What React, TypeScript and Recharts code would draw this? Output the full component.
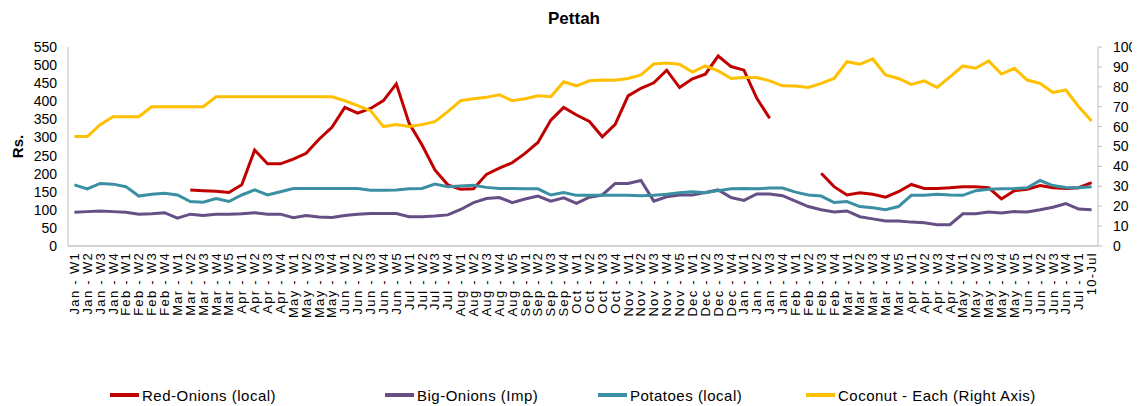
import React from "react";
import { LineChart, Line, XAxis, YAxis, Legend } from "recharts";

const categories: string[] = [
  "Jan - W1", "Jan - W2", "Jan - W3", "Jan - W4",
  "Feb - W1", "Feb - W2", "Feb - W3", "Feb - W4",
  "Mar - W1", "Mar - W2", "Mar - W3", "Mar - W4", "Mar - W5",
  "Apr - W1", "Apr - W2", "Apr - W3", "Apr - W4",
  "May - W1", "May - W2", "May - W3", "May - W4",
  "Jun - W1", "Jun - W2", "Jun - W3", "Jun - W4", "Jun - W5",
  "Jul - W1", "Jul - W2", "Jul - W3", "Jul - W4",
  "Aug - W1", "Aug - W2", "Aug - W3", "Aug - W4", "Aug - W5",
  "Sep - W1", "Sep - W2", "Sep - W3", "Sep - W4",
  "Oct - W1", "Oct - W2", "Oct - W3", "Oct - W4",
  "Nov - W1", "Nov - W2", "Nov - W3", "Nov - W4", "Nov - W5",
  "Dec - W1", "Dec - W2", "Dec - W3", "Dec - W4",
  "Jan - W1", "Jan - W2", "Jan - W3", "Jan - W4",
  "Feb - W1", "Feb - W2", "Feb - W3", "Feb - W4",
  "Mar - W1", "Mar - W2", "Mar - W3", "Mar - W4", "Mar - W5",
  "Apr - W1", "Apr - W2", "Apr - W3", "Apr - W4",
  "May - W1", "May - W2", "May - W3", "May - W4", "May - W5",
  "Jun - W1", "Jun - W2", "Jun - W3", "Jun - W4",
  "Jul - W1", "10-Jul",
];

const redOnions: (number | null)[] = [
  null, null, null, null, null, null, null, null, null,
  155, 153, 151, 148, 169, 265, 227, 227, 240, 256, 295,
  328, 383, 367, 380, 402, 448, 339, 279, 210, 169,
  157, 158, 198, 215, 230, 256, 286, 348, 383, 362,
  344, 302, 336, 415, 436, 451, 486, 438, 462, 475,
  525, 496, 486, 408, 353, null, null, null, 201, 164,
  141, 147, 143, 135, 150, 170, 159, 159, 161, 164,
  164, 161, 130, 153, 157, 167, 161, 159, 161, 175,
];

const bigOnions: number[] = [
  93, 95, 97, 95, 93, 88, 89, 92, 77, 88,
  84, 88, 88, 89, 92, 88, 88, 78, 84, 80,
  79, 84, 88, 90, 90, 90, 81, 81, 83, 86,
  101, 120, 131, 134, 120, 130, 138, 124, 133, 118,
  135, 141, 173, 173, 181, 124, 136, 141, 141, 148,
  155, 134, 126, 144, 144, 139, 124, 109, 100, 94,
  97, 81, 75, 69, 69, 66, 64, 59, 59, 89,
  89, 94, 91, 95, 94, 100, 107, 117, 102, 100,
];

const potatoes: number[] = [
  169, 158, 173, 171, 164, 138, 143, 146, 141, 123,
  121, 131, 123, 141, 155, 141, 150, 159, 159, 159,
  159, 159, 159, 154, 154, 155, 158, 159, 171, 164,
  166, 168, 162, 159, 159, 158, 158, 141, 148, 140,
  140, 140, 140, 140, 139, 140, 143, 147, 150, 147,
  153, 158, 159, 158, 160, 160, 149, 141, 138, 120,
  123, 109, 106, 100, 109, 140, 140, 143, 141, 140,
  153, 157, 158, 159, 161, 181, 167, 162, 161, 164,
];

const coconut: number[] = [
  55, 55, 61, 65, 65, 65, 70, 70, 70, 70,
  70, 75, 75, 75, 75, 75, 75, 75, 75, 75,
  75, 73, 70.5, 68, 60, 61, 60, 61, 62.5, 67.5,
  73, 74, 74.7, 76, 73, 74, 75.5, 75, 82.5, 80.5,
  83, 83.4, 83.3, 84.2, 86, 91.5, 92, 91.3, 87.4, 90.5,
  88, 84.2, 84.7, 84.7, 83, 80.5, 80.4, 79.7, 81.7, 84.2,
  92.6, 91.3, 94, 86, 84.2, 81.2, 83, 79.7, 85, 90.5,
  89.3, 93, 86.4, 89.3, 83.4, 81.7, 77.2, 78.4, 70, 62.8,
];

const leftTicks: number[] = [0, 50, 100, 150, 200, 250, 300, 350, 400, 450, 500, 550];
const rightTicks: number[] = [0, 10, 20, 30, 40, 50, 60, 70, 80, 90, 100];

const seriesNames = {
  red: "Red-Onions (local)",
  big: "Big-Onions (Imp)",
  potato: "Potatoes (local)",
  coconut: "Coconut - Each (Right Axis)",
};

const COLORS = {
  red: "#c00000",
  big: "#654f84",
  potato: "#3a8fa3",
  coconut: "#ffc000",
};

const chartData = categories.map((name, i) => ({
  name,
  red: redOnions[i],
  big: bigOnions[i],
  potato: potatoes[i],
  coconut: coconut[i],
}));

const FONT = "'Liberation Sans', Arial, sans-serif";

const XTick = (props: any) => {
  const { x, y, payload } = props;
  return (
    <text
      x={x}
      y={y}
      transform={`rotate(-90, ${x}, ${y})`}
      textAnchor="end"
      dy="0.35em"
      fontSize={13}
      letterSpacing={1.3}
      fontFamily={FONT}
      fill="#000"
    >
      {payload.value}
    </text>
  );
};

const legendOrder: { key: keyof typeof seriesNames; left: number }[] = [
  { key: "red", left: 102 },
  { key: "big", left: 377 },
  { key: "potato", left: 590 },
  { key: "coconut", left: 798 },
];

const renderLegend = () => (
  <div style={{ position: "relative", height: 22, width: "100%", fontFamily: FONT }}>
    {legendOrder.map((it) => (
      <div
        key={it.key}
        style={{
          position: "absolute",
          left: it.left,
          top: 0,
          height: 22,
          display: "flex",
          alignItems: "center",
          whiteSpace: "nowrap",
        }}
      >
        <span
          style={{
            display: "inline-block",
            width: 29,
            height: 4,
            background: COLORS[it.key],
            marginRight: 3,
          }}
        />
        <span style={{ fontSize: 15, letterSpacing: 0.5, color: "#000" }}>{seriesNames[it.key]}</span>
      </div>
    ))}
  </div>
);

export default function App() {
  return (
    <div style={{ position: "relative", width: 1132, height: 398 }}>
      <div
        style={{
          position: "absolute",
          top: 1,
          left: 0,
          width: 1132,
          textAlign: "center",
          fontFamily: FONT,
          fontWeight: "bold",
          fontSize: 17,
          lineHeight: "20px",
          color: "#000",
        }}
      >
        Pettah
      </div>
      <LineChart
        width={1132}
        height={398}
        data={chartData}
        margin={{ top: 39, right: 0, bottom: 0, left: 0 }}
      >
        <XAxis
          dataKey="name"
          interval={0}
          tick={<XTick />}
          tickLine={false}
          tickSize={0}
          tickMargin={6}
          height={138}
          padding={{ left: 6.4, right: 6.4 }}
          axisLine={{ stroke: "#a6a6a6" }}
        />
        <YAxis
          yAxisId="left"
          domain={[0, 550]}
          ticks={leftTicks}
          interval={0}
          width={60}
          tickLine={false}
          tickSize={6}
          tickMargin={5}
          axisLine={{ stroke: "#bfbfbf" }}
          tick={{ fontSize: 14, fontFamily: FONT, fill: "#000" }}
          label={{
            value: "Rs.",
            angle: -90,
            position: "center",
            dx: -20,
            style: { fontSize: 15, fontWeight: "bold", fontFamily: FONT, fill: "#000" },
          }}
        />
        <YAxis
          yAxisId="right"
          orientation="right"
          domain={[0, 100]}
          ticks={rightTicks}
          interval={0}
          width={42}
          tickLine={{ stroke: "#bfbfbf" }}
          tickSize={4}
          tickMargin={11}
          axisLine={{ stroke: "#bfbfbf" }}
          tick={{ fontSize: 14, fontFamily: FONT, fill: "#000" }}
        />
        <Legend verticalAlign="bottom" height={22} content={renderLegend} />
        <Line
          yAxisId="left"
          type="linear"
          dataKey="red"
          name={seriesNames.red}
          stroke={COLORS.red}
          strokeWidth={3}
          dot={false}
          isAnimationActive={false}
        />
        <Line
          yAxisId="left"
          type="linear"
          dataKey="big"
          name={seriesNames.big}
          stroke={COLORS.big}
          strokeWidth={3}
          dot={false}
          isAnimationActive={false}
        />
        <Line
          yAxisId="left"
          type="linear"
          dataKey="potato"
          name={seriesNames.potato}
          stroke={COLORS.potato}
          strokeWidth={3}
          dot={false}
          isAnimationActive={false}
        />
        <Line
          yAxisId="right"
          type="linear"
          dataKey="coconut"
          name={seriesNames.coconut}
          stroke={COLORS.coconut}
          strokeWidth={3}
          dot={false}
          isAnimationActive={false}
        />
      </LineChart>
    </div>
  );
}
